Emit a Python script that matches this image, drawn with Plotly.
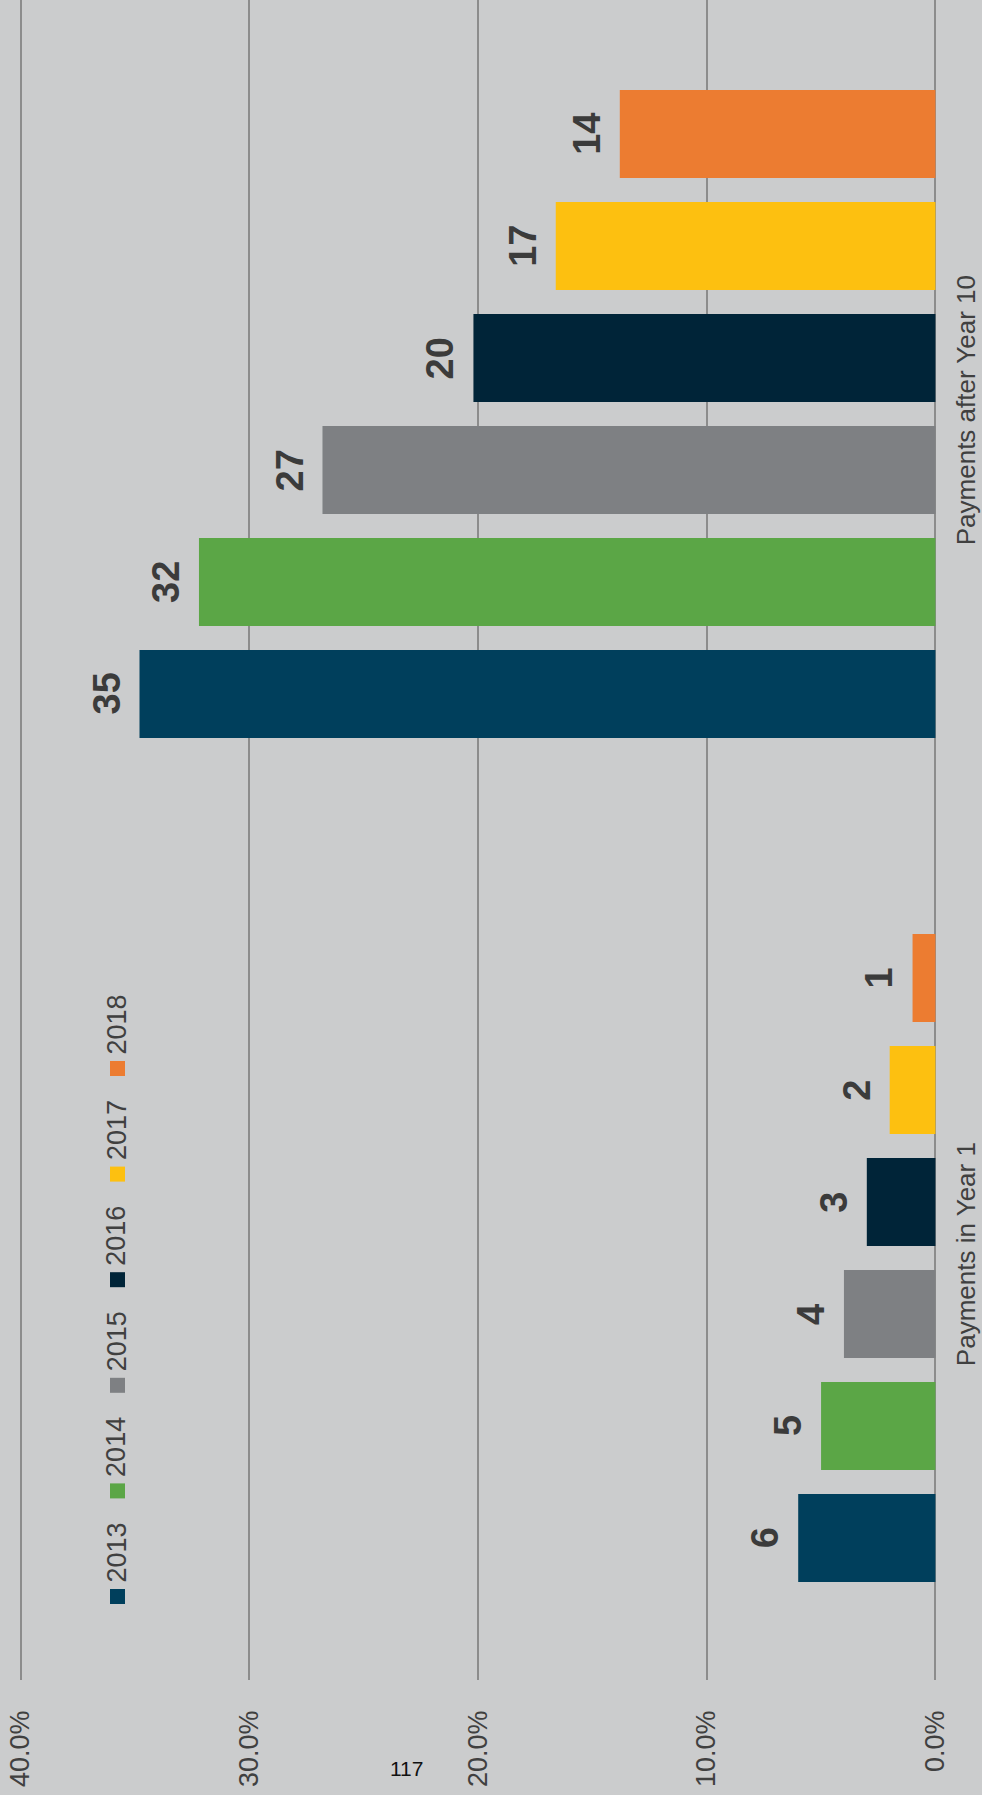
import plotly.graph_objects as go

# ---- data ----
categories = ["Payments in Year 1", "Payments after Year 10"]
years = ["2013", "2014", "2015", "2016", "2017", "2018"]
colors = ["#003f5c", "#5ba646", "#7e8083", "#002438", "#fdc010", "#ec7c31"]
year1_pct = [6.0, 5.0, 4.0, 3.0, 2.0, 1.0]
after10_pct = [34.8, 32.2, 26.8, 20.2, 16.6, 13.8]
year1_labels = ["6", "5", "4", "3", "2", "1"]
after10_labels = ["35", "32", "27", "20", "17", "14"]
tick_vals = [0, 10, 20, 30, 40]
tick_text = ["0.0%", "10.0%", "20.0%", "30.0%", "40.0%"]
page_number = "117"

# ---- layout constants ----
W_FIG, H_FIG = 982, 1795
M_L, M_R, M_T, M_B = 16, 42, 0, 115
PLOT_W = W_FIG - M_L - M_R
PLOT_H = H_FIG - M_T - M_B
BARGAP = 0.204
BARGROUPGAP = 0.214
BG = "#cbcccd"
TXT = "#404040"
FONT = "Liberation Sans, Arial, sans-serif"


def px_to_paper(px, py):
    return (px - M_L) / PLOT_W, (M_T + PLOT_H - py) / PLOT_H


fig = go.Figure()
for i, yr in enumerate(years):
    fig.add_trace(go.Bar(
        name=yr,
        orientation="h",
        y=categories,
        x=[year1_pct[i], after10_pct[i]],
        marker=dict(color=colors[i], line=dict(width=0)),
        showlegend=False,
    ))

# bar value labels (rotated), positioned from data values
slot = (1 - BARGAP) / len(years)
annotations = []
for i in range(len(years)):
    off = (i - (len(years) - 1) / 2) * slot
    for ci, (val, lab) in enumerate([(year1_pct[i], year1_labels[i]),
                                     (after10_pct[i], after10_labels[i])]):
        annotations.append(dict(
            x=val, y=ci + off, xref="x", yref="y",
            text=lab, showarrow=False, textangle=-90,
            xanchor="right", yanchor="middle", xshift=-10,
            font=dict(family=FONT, size=38, color="#3b3b3b", weight="bold"),
        ))

# legend (rotated, vertical column)
shapes = []
leg_x = 117.5
leg_bottom0 = 1604
leg_step = 105.6
sq = 15
for i, yr in enumerate(years):
    b = leg_bottom0 - leg_step * i
    x0, y0 = px_to_paper(leg_x - sq / 2, b)
    x1, y1 = px_to_paper(leg_x + sq / 2, b - sq)
    shapes.append(dict(type="rect", xref="paper", yref="paper",
                       x0=x0, y0=y0, x1=x1, y1=y1,
                       fillcolor=colors[i], line=dict(width=0)))
    tx, ty = px_to_paper(leg_x - 1, b - sq - 4)
    annotations.append(dict(
        x=tx, y=ty, xref="paper", yref="paper", text=yr, showarrow=False,
        textangle=-90, xanchor="center", yanchor="bottom",
        font=dict(family=FONT, size=27, color=TXT),
    ))

# page number
pnx, pny = px_to_paper(406, 1768)
annotations.append(dict(
    x=pnx, y=pny, xref="paper", yref="paper", text=page_number,
    showarrow=False, xanchor="center", yanchor="middle",
    font=dict(family="Liberation Sans Narrow, Liberation Sans, Arial", size=21, color="#111111"),
))

fig.update_layout(
    width=W_FIG, height=H_FIG,
    margin=dict(l=M_L, r=M_R, t=M_T, b=M_B, autoexpand=False),
    paper_bgcolor=BG, plot_bgcolor=BG,
    barmode="group", bargap=BARGAP, bargroupgap=BARGROUPGAP,
    font=dict(family=FONT, color=TXT),
    annotations=annotations, shapes=shapes,
    showlegend=False,
    xaxis=dict(
        range=[40.2, -0.2],
        tickmode="array", tickvals=tick_vals, ticktext=tick_text,
        tickangle=-90, tickfont=dict(family=FONT, size=27, color=TXT),
        showgrid=True, gridcolor="#8c8c8c", gridwidth=1.5,
        zeroline=True, zerolinecolor="#8c8c8c", zerolinewidth=1.5,
        showline=False, ticks="", ticklabelstandoff=24,
    ),
    yaxis=dict(
        type="category", categoryarray=categories, categoryorder="array",
        range=[-0.5, 1.4905], side="right",
        tickangle=-90, tickfont=dict(family=FONT, size=26, color=TXT),
        showgrid=False, zeroline=False, showline=False, ticks="",
        ticklabelstandoff=8,
    ),
)

fig.write_html(
    "out.html",
    config={"displayModeBar": False},
    post_script="document.body.style.margin='0';document.body.style.padding='0';document.body.style.background='#cbcccd';",
)
